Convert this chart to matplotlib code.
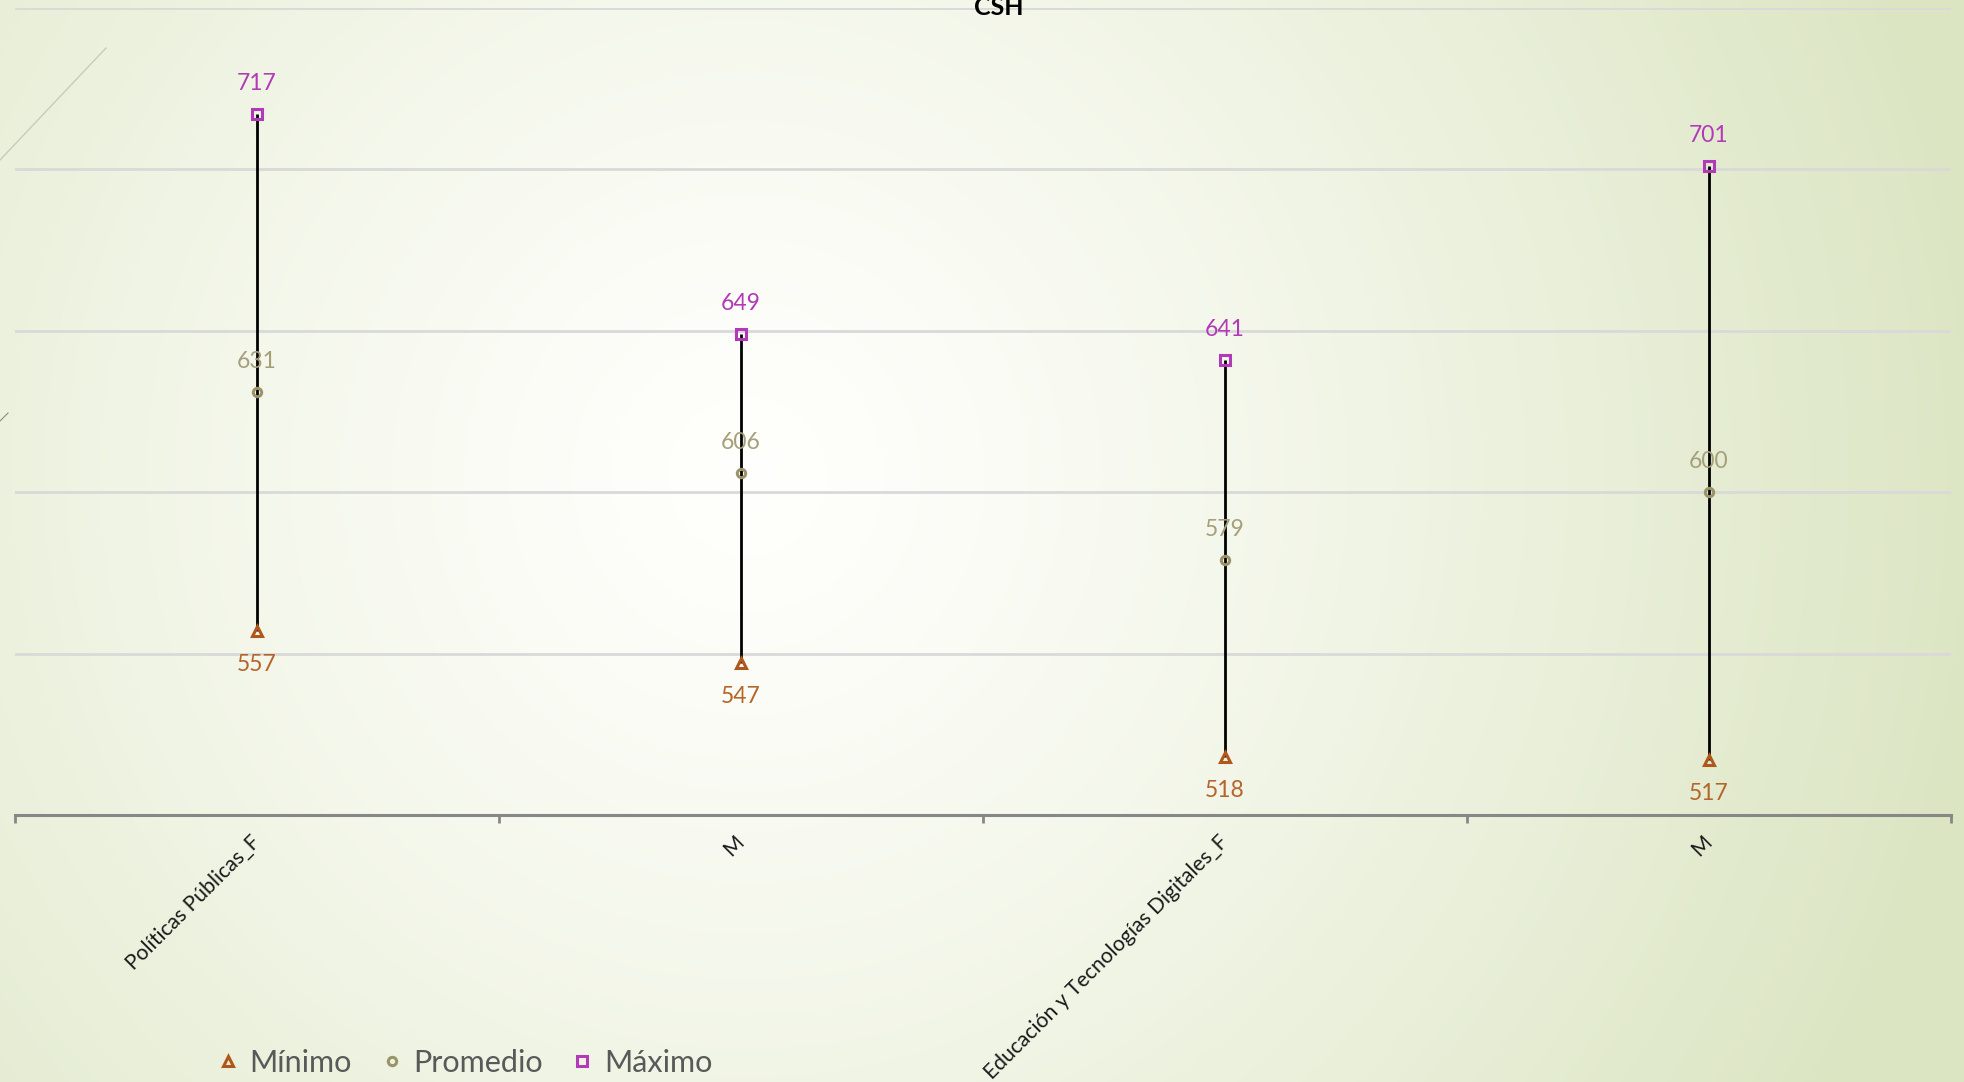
import numpy as np
import matplotlib
matplotlib.use("Agg")
import matplotlib.pyplot as plt
from matplotlib.lines import Line2D

plt.rcParams['font.family'] = ['Lato', 'DejaVu Sans']

categories = ['Políticas Públicas_F', 'M', 'Educación y Tecnologías Digitales_F', 'M']
minimo = [557, 547, 518, 517]
promedio = [631, 606, 579, 600]
maximo = [717, 649, 641, 701]
title = 'CSH'

c_min = '#B0571B'
c_min_lbl = '#B5652A'
c_avg = '#9A9468'
c_avg_lbl = '#A5A07A'
c_max = '#B23AB8'

W, H = 1965, 1082
fig = plt.figure(figsize=(W / 100, H / 100), dpi=100)

# background radial gradient
bg = fig.add_axes([0, 0, 1, 1], zorder=-10)
yy, xx = np.mgrid[0:H, 0:W]
cx, cy = 0.38 * W, 0.44 * H
d = np.sqrt(((xx - cx) / (0.75 * W)) ** 2 + ((yy - cy) / (0.75 * W)) ** 2)
t = np.clip(d / 0.85, 0, 1) ** 1.3
white = np.array([1.0, 1.0, 0.99])
green = np.array([0xDB, 0xE5, 0xC2]) / 255.0
img = white[None, None, :] * (1 - t[..., None]) + green[None, None, :] * t[..., None]
bg.imshow(img, extent=[0, 1, 0, 1], aspect='auto', origin='upper')
bg.set_xlim(0, 1)
bg.set_ylim(0, 1)
bg.axis('off')
# decorative theme lines
bg.plot([0, 106 / W], [1 - 160 / H, 1 - 48 / H], color='#C9CDB6', lw=1.0)
bg.plot([0, 8 / W], [1 - 421 / H, 1 - 413 / H], color='#8A8E7A', lw=0.8)

ax = fig.add_axes([15 / W, 1 - 815 / H, (1951 - 15) / W, (815 - 7.5) / H])
ax.patch.set_alpha(0)
x = np.arange(len(categories))
ax.set_xlim(-0.5, len(categories) - 0.5)
ax.set_ylim(500, 750)
ax.set_yticks([500, 550, 600, 650, 700, 750])
ax.yaxis.grid(True, color='#D9D9D9', lw=2)
ax.set_axisbelow(True)
ax.tick_params(axis='y', left=False, labelleft=False)
for s in ['left', 'right', 'top']:
    ax.spines[s].set_visible(False)
ax.spines['bottom'].set_color('#878787')
ax.spines['bottom'].set_linewidth(2.2)

ax.set_xticks(x)
ax.set_xticklabels(categories, rotation=45, ha='right', va='center',
                   rotation_mode='anchor', fontsize=15.2, color='#1a1a1a')
ax.tick_params(axis='x', which='major', length=0, pad=17)
ax.set_xticks(np.arange(-0.5, len(categories), 1.0), minor=True)
ax.tick_params(axis='x', which='minor', length=6, width=2, color='#878787')

ax.vlines(x, minimo, maximo, color='black', lw=2.0, zorder=2)
ax.plot(x, minimo, ls='none', marker='^', ms=7, mfc='none', mec=c_min, mew=2.2, zorder=3)
ax.plot(x, promedio, ls='none', marker='o', ms=6, mfc='none', mec=c_avg, mew=2.2, zorder=3)
ax.plot(x, maximo, ls='none', marker='s', ms=7, mfc='none', mec=c_max, mew=2.2, zorder=3)

for xi, v in zip(x, maximo):
    ax.annotate(str(v), (xi, v), xytext=(0, 22), textcoords='offset points',
                ha='center', va='center', fontsize=16.5, color=c_max)
for xi, v in zip(x, promedio):
    ax.annotate(str(v), (xi, v), xytext=(0, 22), textcoords='offset points',
                ha='center', va='center', fontsize=16.5, color=c_avg_lbl)
for xi, v in zip(x, minimo):
    ax.annotate(str(v), (xi, v), xytext=(0, -24), textcoords='offset points',
                ha='center', va='center', fontsize=16.5, color=c_min_lbl)

fig.text(999 / W, 1 - 15 / H, title, ha='center', va='baseline',
         fontsize=18, fontweight='bold', color='black')

handles = [
    Line2D([], [], ls='none', marker='^', ms=7, mfc='none', mec=c_min, mew=2.2),
    Line2D([], [], ls='none', marker='o', ms=6, mfc='none', mec=c_avg, mew=2.2),
    Line2D([], [], ls='none', marker='s', ms=7, mfc='none', mec=c_max, mew=2.2),
]
leg = fig.legend(handles, ['Mínimo', 'Promedio', 'Máximo'], loc='center left',
                 bbox_to_anchor=(219 / W, 1 - 1063 / H), ncol=3, frameon=False,
                 fontsize=22, handlelength=0.6, handletextpad=0.4, columnspacing=1.0,
                 borderpad=0, borderaxespad=0)
for txt in leg.get_texts():
    txt.set_color('#595959')

fig.savefig('out.png', dpi=100)
